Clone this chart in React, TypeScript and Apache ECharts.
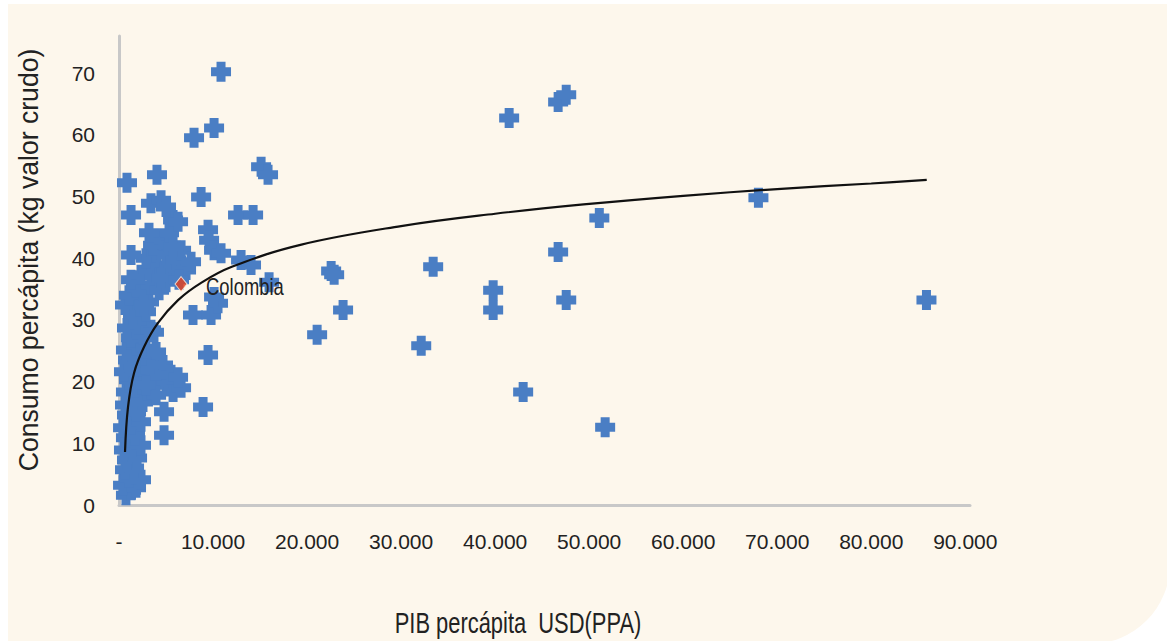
import React, { useEffect, useRef } from "react";
import * as echarts from "echarts";

// PIB percápita (USD PPA) vs consumo percápita (kg valor crudo)
const lowIncomeCluster: [number, number][] = [
  [740, 1.6], [1280, 2.4], [430, 3.2], [1810, 2.8], [1060, 4.4], [2340, 4.1],
  [640, 5.7], [1600, 6.0], [850, 7.3], [1920, 7.6], [530, 8.9], [1380, 9.4],
  [2340, 9.7], [740, 10.9], [1700, 11.3], [430, 12.5], [1280, 13.0], [2340, 13.5],
  [850, 14.6], [1810, 15.1], [640, 16.2], [1490, 17.0], [2550, 16.7], [740, 18.3],
  [1700, 19.0], [2980, 18.6], [1060, 20.3], [2130, 20.6], [530, 21.6], [1600, 22.2],
  [2870, 21.6], [960, 23.5], [2020, 24.0], [3400, 23.2], [740, 25.1], [1810, 25.9],
  [2870, 25.4], [3940, 24.8], [1280, 27.1], [2550, 27.6], [850, 28.7], [2130, 29.2],
  [3400, 28.4], [1490, 30.8], [2870, 31.3], [640, 32.4], [1920, 33.2], [3190, 32.9],
  [3400, 21.9], [4260, 20.6], [5000, 19.4], [5750, 18.3], [6600, 19.0], [3940, 17.8],
  [2870, 19.4], [4680, 22.7], [5530, 21.1], [4790, 15.1], [4790, 11.3], [8940, 15.9],
  [6280, 20.7], [9470, 24.3], [3720, 28.0],
];

const middleIncomeCluster: [number, number][] = [
  [1060, 34.0], [1810, 35.2], [2550, 34.5], [3400, 35.7], [4260, 34.8], [5000, 36.1],
  [1280, 36.5], [2340, 37.3], [3190, 38.1], [4040, 38.9], [4790, 37.8], [5750, 38.4],
  [2870, 40.0], [3940, 41.0], [5000, 40.5], [6060, 39.7], [3620, 42.1], [4680, 42.9],
  [5530, 42.1], [6600, 41.3], [5320, 44.1], [5750, 41.8], [3190, 44.1], [4470, 36.8],
  [2660, 32.4], [7130, 38.1], [7660, 39.4], [6380, 36.5], [7870, 30.8], [9790, 30.8],
  [10530, 32.7], [10110, 33.7], [12980, 39.7], [14040, 38.9], [9470, 44.6], [9580, 42.9],
  [10110, 41.3], [10850, 40.8], [5750, 46.2], [6280, 45.9], [3400, 48.9], [4470, 49.4],
  [5000, 48.3], [1280, 40.5],
];

const otherCountries: [number, number][] = [
  [10850, 70.2], [10110, 61.1], [7980, 59.5], [8730, 49.9], [850, 52.2], [1280, 47.0],
  [4040, 53.5], [15110, 54.8], [15850, 53.5], [12660, 47.0], [14260, 47.0], [41490, 62.7],
  [46700, 65.3], [47560, 66.5], [68000, 49.8], [51080, 46.5], [46700, 41.0], [47560, 33.2],
  [39790, 34.8], [39790, 31.6], [33410, 38.6], [32140, 25.8], [42980, 18.3], [51700, 12.6],
  [85870, 33.2], [22560, 37.9], [22880, 37.3], [23830, 31.6], [21070, 27.6], [15960, 36.1],
];

const colombiaPoint: [number, number] = [6600, 35.8];
const colombiaLabel = "Colombia";

// Logarithmic trend line
const trendPoints: [number, number][] = [
  [640, 8.6], [960, 15.9], [1600, 21.4], [2660, 25.6], [4150, 29.5], [6280, 33.2],
  [8730, 36.0], [12000, 38.6], [19400, 42.2], [30000, 45.2], [40000, 47.2],
  [49400, 48.7], [60000, 50.1], [70000, 51.2], [80000, 52.1], [85900, 52.7],
];

const xTitle = "PIB percápita  USD(PPA)";
const yTitle = "Consumo percápita (kg valor crudo)";

const FONT = '"Liberation Sans", Arial, sans-serif';
const BLUE = "#4A7EC4";
const PLUS = "path://M5.5,0H14.5V5.5H20V14.5H14.5V20H5.5V14.5H0V5.5H5.5Z";

export default function App() {
  const ref = useRef<HTMLDivElement>(null);

  useEffect(() => {
    if (!ref.current) return;
    const chart = echarts.init(ref.current, null, { renderer: "svg" });
    chart.setOption({
      animation: false,
      backgroundColor: "transparent",
      grid: { left: 119, right: 197, top: 36, bottom: 136 },
      xAxis: {
        type: "value",
        min: 0,
        max: 90500,
        interval: 10000,
        axisLine: { show: true, lineStyle: { color: "#C8C8C8", width: 3 } },
        axisTick: { show: false },
        splitLine: { show: false },
        axisLabel: {
          showMaxLabel: false,
          margin: 26,
          fontSize: 21,
          fontFamily: FONT,
          color: "#222",
          formatter: (v: number) => (v === 0 ? "-" : `${Math.round(v / 1000)}.000`),
        },
      },
      yAxis: {
        type: "value",
        min: 0,
        max: 76,
        interval: 10,
        axisLine: { show: true, lineStyle: { color: "#C8C8C8", width: 3 } },
        axisTick: { show: false },
        splitLine: { show: false },
        axisLabel: {
          showMaxLabel: false,
          margin: 24,
          fontSize: 21,
          fontFamily: FONT,
          color: "#222",
        },
      },
      series: [
        {
          type: "scatter",
          data: [...lowIncomeCluster, ...middleIncomeCluster, ...otherCountries],
          symbol: PLUS,
          symbolSize: 20,
          itemStyle: { color: BLUE, opacity: 1 },
          z: 2,
        },
        {
          type: "line",
          data: trendPoints,
          smooth: 0.4,
          showSymbol: false,
          symbol: "none",
          lineStyle: { color: "#111", width: 2.2 },
          z: 3,
        },
        {
          type: "scatter",
          data: [colombiaPoint],
          symbol: "diamond",
          symbolSize: [12, 15],
          itemStyle: { color: "#E63E1C", borderColor: "#fdf0e0", borderWidth: 1 },
          z: 4,
        },
      ],
    });

    const [cx, cy] = chart.convertToPixel({ gridIndex: 0 }, colombiaPoint) as number[];

    chart.setOption({
      graphic: [
        {
          type: "text",
          x: 518,
          y: 623,
          scaleX: 0.73,
          style: {
            text: xTitle,
            textAlign: "center",
            textVerticalAlign: "middle",
            fontSize: 30,
            fontFamily: FONT,
            fill: "#222",
          },
        },
        {
          type: "text",
          x: 28,
          y: 260,
          rotation: Math.PI / 2,
          scaleX: 0.95,
          style: {
            text: yTitle,
            textAlign: "center",
            textVerticalAlign: "middle",
            fontSize: 28,
            fontFamily: FONT,
            fill: "#222",
          },
        },
        {
          type: "text",
          x: cx + 25,
          y: cy + 3,
          scaleX: 0.8,
          z: 10,
          style: {
            text: colombiaLabel,
            textAlign: "left",
            textVerticalAlign: "middle",
            fontSize: 23,
            fontFamily: FONT,
            fill: "#222",
          },
        },
      ],
    });
    return () => chart.dispose();
  }, []);

  return (
    <div style={{ position: "fixed", left: 0, top: 0, width: 1167, height: 641, background: "#fff", overflow: "hidden" }}>
      <div
        style={{
          position: "absolute",
          left: 8,
          top: 4,
          width: 1162,
          height: 640,
          background: "#FDF7EC",
          borderBottomRightRadius: 80,
        }}
      />
      <div ref={ref} style={{ position: "absolute", left: 0, top: 0, width: 1167, height: 641 }} />
    </div>
  );
}
